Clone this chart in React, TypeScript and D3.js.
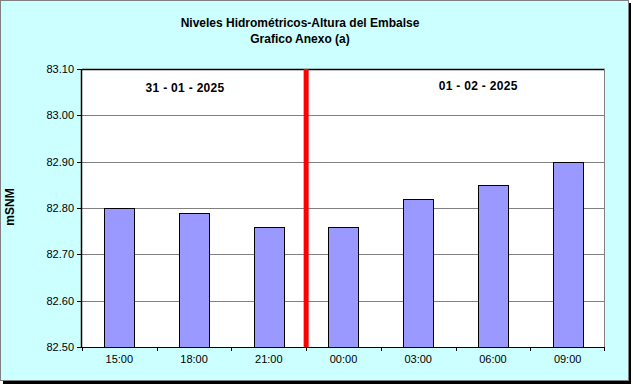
import React from "react";
import * as d3 from "d3";

const categories = ["15:00", "18:00", "21:00", "00:00", "03:00", "06:00", "09:00"];
const values = [82.8, 82.79, 82.76, 82.76, 82.82, 82.85, 82.9];
const yTicks = [82.5, 82.6, 82.7, 82.8, 82.9, 83.0, 83.1];
const dateLabels = ["31 - 01 - 2025", "01 - 02 - 2025"];
const titleLines = ["Niveles Hidrométricos-Altura del Embalse", "Grafico Anexo (a)"];
const yLabel = "mSNM";

const W = 633, H = 386;
const L = 82, R = 605, T = 69, B = 347;

export default function App() {
  const x = d3.scaleBand<string>().domain(categories).range([L, R]).paddingInner(0).paddingOuter(0);
  const y = d3.scaleLinear().domain([82.5, 83.1]).range([B, T]);
  const bw = 30;
  const font = "Arial, 'Liberation Sans', sans-serif";
  const sepX = x("00:00")!;
  return (
    <svg width={W} height={H} style={{ position: "absolute", left: 0, top: 0 }}>
      <rect x={3} y={3} width={628} height={381} fill="#000" />
      <rect x={0.5} y={0.5} width={628} height={380} fill="#CCFFFF" stroke="#808080" strokeWidth={1} />
      <rect x={L} y={T} width={R - L} height={B - T} fill="#fff" />
      {yTicks.slice(1, -1).map((t) => (
        <line key={t} x1={L} x2={R} y1={Math.round(y(t)) + 0.5} y2={Math.round(y(t)) + 0.5} stroke="#808080" strokeWidth={1} />
      ))}
      {values.map((v, i) => {
        const cx = x(categories[i])! + x.bandwidth() / 2;
        return (
          <rect key={i} x={Math.round(cx - bw / 2) + 0.5} y={Math.round(y(v)) + 0.5} width={bw} height={B - Math.round(y(v))} fill="#9999FF" stroke="#000" strokeWidth={1} />
        );
      })}
      <line x1={L} x2={R} y1={T + 0.5} y2={T + 0.5} stroke="#000" strokeWidth={1.5} />
      <line x1={R - 0.5} x2={R - 0.5} y1={T} y2={B} stroke="#808080" strokeWidth={1} />
      <line x1={L - 0.5} x2={L - 0.5} y1={T} y2={B} stroke="#000" strokeWidth={1.5} />
      <line x1={L} x2={R} y1={B + 0.5} y2={B + 0.5} stroke="#000" strokeWidth={1} />
      {yTicks.map((t) => (
        <g key={t}>
          <line x1={L - 5} x2={L} y1={Math.round(y(t)) + 0.5} y2={Math.round(y(t)) + 0.5} stroke="#000" />
          <text x={L - 8} y={y(t) + 4} textAnchor="end" fontFamily={font} fontSize={11} fill="#000">{t.toFixed(2)}</text>
        </g>
      ))}
      {categories.map((c, i) => (
        <g key={c}>
          <line x1={Math.round(x(c)!) + 0.5} x2={Math.round(x(c)!) + 0.5} y1={B} y2={B + 4} stroke="#000" />
          <text x={x(c)! + x.bandwidth() / 2} y={363} textAnchor="middle" fontFamily={font} fontSize={11} fill="#000">{c}</text>
        </g>
      ))}
      <line x1={R - 0.5} x2={R - 0.5} y1={B} y2={B + 4} stroke="#000" />
      <line x1={sepX} x2={sepX} y1={T} y2={B} stroke="#FF0000" strokeWidth={5} />
      <text x={x("18:00")! + x.bandwidth() / 2 - 9} y={92} textAnchor="middle" fontFamily={font} fontSize={12} fontWeight="bold" fill="#000" letterSpacing={0.3}>{dateLabels[0]}</text>
      <text x={x("03:00")! + x.bandwidth() / 2 + 60} y={90} textAnchor="middle" fontFamily={font} fontSize={12} fontWeight="bold" fill="#000" letterSpacing={0.3}>{dateLabels[1]}</text>
      <text x={300} y={27} textAnchor="middle" fontFamily={font} fontSize={12} fontWeight="bold" fill="#000">{titleLines[0]}</text>
      <text x={300} y={43} textAnchor="middle" fontFamily={font} fontSize={12} fontWeight="bold" fill="#000">{titleLines[1]}</text>
      <text transform="translate(14,207) rotate(-90)" textAnchor="middle" fontFamily={font} fontSize={12} fontWeight="bold" fill="#000">{yLabel}</text>
    </svg>
  );
}
